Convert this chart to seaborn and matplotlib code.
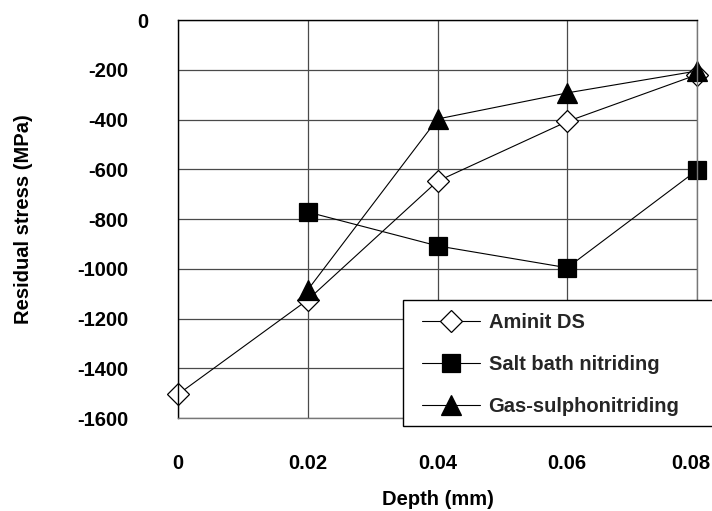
import matplotlib
matplotlib.use('Agg')
import matplotlib.pyplot as plt
import matplotlib.transforms as mtransforms
from matplotlib.patches import Rectangle
import seaborn as sns

# Data
depth = [0.0, 0.02, 0.04, 0.06, 0.08]
aminit = [-1505, -1125, -648, -408, -220]
salt_depth = [0.02, 0.04, 0.06, 0.08]
salt_bath = [-772, -908, -996, -604]
gas_depth = [0.02, 0.04, 0.06, 0.08]
gas_sulpho = [-1085, -398, -293, -205]

x_ticks = [0, 0.02, 0.04, 0.06, 0.08]
x_labels = ['0', '0.02', '0.04', '0.06', '0.08']
y_ticks = [0, -200, -400, -600, -800, -1000, -1200, -1400, -1600]
y_labels = ['0', '-200', '-400', '-600', '-800', '-1000', '-1200', '-1400', '-1600']

FS = 14.5

sns.set_theme(style='white')
plt.rcParams['font.family'] = ['Liberation Sans', 'DejaVu Sans']
plt.rcParams['font.weight'] = 'bold'
plt.rcParams['axes.unicode_minus'] = False

W, H = 712, 511
fig = plt.figure(figsize=(W / 100, H / 100), dpi=100)
ax = fig.add_axes([178 / W, 1 - 418 / H, (697 - 178) / W, (418 - 20) / H])

line_kw = dict(color='black', linewidth=0.8, markeredgecolor='black',
               markeredgewidth=0.9, clip_on=False, ax=ax)
sns.lineplot(x=depth, y=aminit, marker='D', markersize=11,
             markerfacecolor='white', label='Aminit DS', **line_kw)
sns.lineplot(x=salt_depth, y=salt_bath, marker='s', markersize=13,
             markerfacecolor='black', label='Salt bath nitriding', **line_kw)
sns.lineplot(x=gas_depth, y=gas_sulpho, marker='^', markersize=15,
             markerfacecolor='black', label='Gas-sulphonitriding', **line_kw)

ax.set_xlim(0, 0.08)
ax.set_ylim(-1600, 0)
ax.set_xticks(x_ticks)
ax.set_xticklabels(x_labels)
ax.set_yticks(y_ticks)
ax.set_yticklabels(y_labels)

ax.grid(True, color='#4a4a4a', linewidth=0.9)
ax.set_axisbelow(True)
for side in ['top', 'left']:
    ax.spines[side].set_color('black')
    ax.spines[side].set_linewidth(1.0)
for side in ['bottom', 'right']:
    ax.spines[side].set_color('#777777')
    ax.spines[side].set_linewidth(1.0)

ax.tick_params(axis='y', direction='in', length=6, width=1, color='black',
               pad=36, labelsize=FS)
ax.tick_params(axis='x', length=0, pad=26, labelsize=FS)
for lab in ax.get_xticklabels() + ax.get_yticklabels():
    lab.set_fontweight('bold')
    lab.set_color('black')

# the "0" label sits further right in the original, "0.08" a little left
zero_lab = ax.get_yticklabels()[0]
zero_lab.set_transform(zero_lab.get_transform() +
                       mtransforms.ScaledTranslation(20 / 100, 0, fig.dpi_scale_trans))
last_lab = ax.get_xticklabels()[-1]
last_lab.set_transform(last_lab.get_transform() +
                       mtransforms.ScaledTranslation(-6 / 100, 0, fig.dpi_scale_trans))

ax.set_xlabel('Depth (mm)', fontsize=FS, fontweight='bold', color='black', labelpad=12)
ax.set_ylabel('Residual stress (MPa)', fontsize=FS, fontweight='bold', color='black')
ax.yaxis.set_label_coords((33 - 178) / 519, 0.5)

# legend box: white panel with black border reaching the right edge
frame = Rectangle((403 / W, 1 - 426 / H), (716 - 403) / W, (426 - 300) / H,
                  transform=fig.transFigure, facecolor='white',
                  edgecolor='black', linewidth=1.0, zorder=4)
fig.patches.append(frame)

handles, labels = ax.get_legend_handles_labels()
ax.get_legend().remove()
leg = fig.legend(handles, labels, loc='upper left',
                 bbox_to_anchor=(409 / W, 1 - 300 / H - 0.01, 300 / W, 0.01),
                 bbox_transform=fig.transFigure, mode='expand',
                 borderaxespad=0, frameon=False,
                 handlelength=2.9, handletextpad=0.4, borderpad=0.65,
                 labelspacing=1.15, prop={'weight': 'bold', 'size': FS})
leg.set_zorder(5)

fig.savefig('out.png', dpi=100)
